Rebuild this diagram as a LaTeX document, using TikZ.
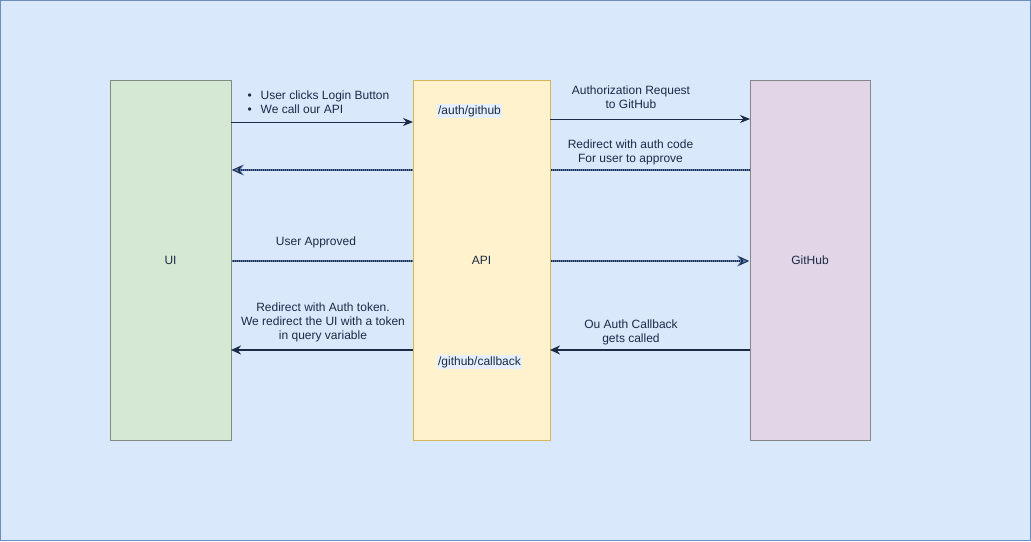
\documentclass[tikz,border=0pt]{standalone}
\usepackage{fontspec}
\setmainfont{Liberation Sans}
\usetikzlibrary{arrows.meta,positioning}
\definecolor{bgfill}{HTML}{DAE8FC}
\definecolor{bgline}{HTML}{6C8EBF}
\definecolor{uifill}{HTML}{D5E8D4}
\definecolor{uiline}{HTML}{7F8C7F}
\definecolor{apifill}{HTML}{FFF2CC}
\definecolor{apiline}{HTML}{D6B656}
\definecolor{ghfill}{HTML}{E1D5E7}
\definecolor{ghline}{HTML}{868686}
\definecolor{navy}{HTML}{1B2B45}
\definecolor{dotblue}{HTML}{5A78B0}
\pgfdeclarelayer{bg}
\pgfdeclarelayer{back}
\pgfsetlayers{bg,back,main}
\tikzset{
  lane/.style={draw, line width=1pt, inner sep=0pt, outer sep=0pt, minimum height=360pt, font=\fontsize{12}{14}\selectfont, text=navy},
  lbl/.style={font=\fontsize{12}{14}\selectfont, text=navy, align=center, inner sep=0pt},
  solidarrow/.style={draw=navy, line width=1pt, -{Stealth[length=10pt,width=8pt]}},
  thickarrow/.style={draw=navy, line width=1.8pt, -{Stealth[length=10pt,width=9pt]}},
  dotunder/.style={draw=dotblue, line width=2.6pt, -{Stealth[length=12pt,width=11pt,fill=dotblue]}},
  dotover/.style={draw=navy, line width=2pt, dash pattern=on 1pt off 1pt, -{Stealth[length=10pt,width=9pt,open,line width=0.8pt]}},
  pathlbl/.style={font=\fontsize{12}{14}\selectfont, text=navy, fill=bgfill!70!white, inner sep=1pt}
}
\begin{document}
\begin{tikzpicture}[x=1pt,y=-1pt]
\useasboundingbox (0,0) rectangle (1031,541);
\begin{pgfonlayer}{bg}
\node[draw=bgline, fill=bgfill, line width=1.2pt, minimum width=1029.5pt, minimum height=539.5pt, inner sep=0pt, outer sep=0pt] (frame) at (515.5,270.5) {};
\end{pgfonlayer}
\node[lane, fill=uifill, draw=uiline, minimum width=121pt] (ui) at (170.5,260) {UI};
\node[lane, fill=apifill, draw=apiline, minimum width=137pt] (api) at (481.5,260) {API};
\node[lane, fill=ghfill, draw=ghline, minimum width=120pt] (gh) at (810,260) {GitHub};
\coordinate (r1) at (0,122);
\coordinate (r2) at (0,119);
\coordinate (r3) at (0,170);
\coordinate (r4) at (0,261);
\coordinate (r5) at (0,350);
% API path labels
\node[pathlbl] (authpath) at (469.5,111) {/auth/github};
\node[pathlbl] (cbpath) at (479.5,362) {/github/callback};
% arrow 1
\draw[solidarrow] (ui.east |- r1) -- (api.west |- r1);
\node[lbl, align=left] (l1) at (318.5,102) {\makebox[13pt][l]{\textbullet}User clicks Login Button\\\makebox[13pt][l]{\textbullet}We call our API};
% arrow 2
\draw[solidarrow] (api.east |- r2) -- (gh.west |- r2);
\node[lbl] (l2) at (631,97) {Authorization Request\\to GitHub};
% arrows 3 and 4 (dotted, behind API)
\begin{pgfonlayer}{back}
\draw[dotunder] (gh.west |- r3) -- ([xshift=1pt]ui.east |- r3);
\draw[dotover] (gh.west |- r3) -- ([xshift=1pt]ui.east |- r3);
\draw[dotunder] (ui.east |- r4) -- ([xshift=-1pt]gh.west |- r4);
\draw[dotover] (ui.east |- r4) -- ([xshift=-1pt]gh.west |- r4);
\end{pgfonlayer}
\node[lbl] (l3) at (630.5,152) {Redirect with auth code\\For user to approve};
\node[lbl] (l4) at (316,242) {User Approved};
% arrow 5
\draw[thickarrow] (gh.west |- r5) -- (api.east |- r5);
\node[lbl] (l5) at (631,332) {Ou Auth Callback\\gets called};
% arrow 6
\draw[thickarrow] (api.west |- r5) -- (ui.east |- r5);
\node[lbl] (l6) at (323,322) {Redirect with Auth token.\\We redirect the UI with a token\\in query variable};
\end{tikzpicture}
\end{document}
